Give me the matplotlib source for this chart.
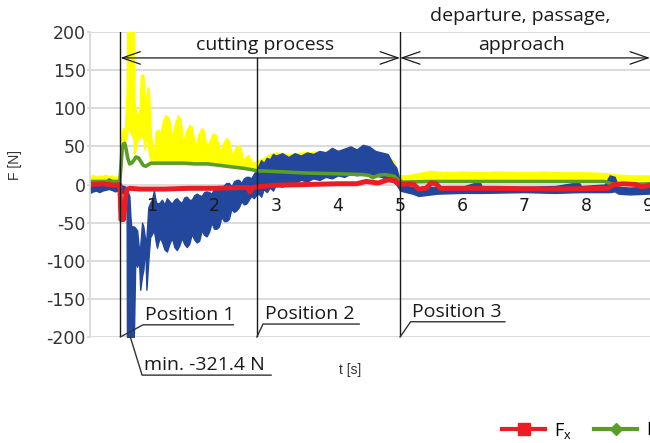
import matplotlib
matplotlib.use("Agg")
import matplotlib.pyplot as plt
from matplotlib.lines import Line2D

# values (t in s, F in N)
yellow_t = [0.00, 0.05, 0.10, 0.15, 0.20, 0.25, 0.30, 0.35, 0.40, 0.45,
            0.49, 0.50, 0.53, 0.56, 0.59, 0.60, 0.61, 0.70, 0.71, 0.73,
            0.75, 0.78, 0.80, 0.82, 0.86, 0.88, 0.90, 0.93, 0.95, 0.97,
            1.00, 1.03, 1.06, 1.10, 1.14, 1.18, 1.22, 1.27, 1.32, 1.37,
            1.42, 1.46, 1.50, 1.55, 1.60, 1.64, 1.70, 1.75, 1.80, 1.84,
            1.88, 1.93, 1.98, 2.03, 2.06, 2.10, 2.15, 2.20, 2.24, 2.29,
            2.34, 2.39, 2.43, 2.47, 2.51, 2.55, 2.59, 2.63, 2.68, 2.72,
            2.80, 2.90, 3.00, 3.20, 3.40, 3.60, 3.80, 4.00, 4.20, 4.40,
            4.60, 4.80, 4.90, 4.96, 5.02, 5.10, 5.30, 5.50, 5.70, 6.00,
            6.30, 6.60, 7.00, 7.30, 7.60, 8.00, 8.30, 8.50, 8.70, 9.00,
            9.10]
yellow_lo = [4, 5, 4, 5, 4, 5, 4, 5, 4, 5,
             5, 20, 55, 57, 60, 70, 75, 60, 40, 45,
             55, 60, 60, 65, 60, 45, 60, 55, 40, 33,
             32, 34, 30, 30, 30, 30, 30, 30, 30, 30,
             30, 30, 30, 30, 30, 30, 29, 29, 29, 29,
             28, 28, 28, 27, 27, 26, 26, 26, 25, 24,
             24, 23, 23, 22, 22, 22, 21, 20, 19, 19,
             20, 20, 20, 21, 22, 22, 22, 22, 22, 22,
             20, 18, 12, 6, 5, 6, 7, 8, 8, 8,
             8, 8, 8, 8, 8, 8, 8, 6, 6, 5,
             5]
yellow_hi = [11, 13, 10, 12, 11, 13, 10, 12, 10, 11,
             10, 60, 74, 72, 120, 230, 230, 230, 120, 100,
             96, 90, 100, 144, 144, 105, 110, 128, 125, 80,
             50, 40, 70, 72, 68, 85, 91, 88, 62, 80,
             91, 85, 56, 70, 78, 76, 50, 66, 74, 70,
             47, 58, 67, 65, 55, 43, 55, 61, 58, 38,
             48, 52, 48, 32, 36, 39, 33, 28, 30, 32,
             35, 40, 42, 40, 42, 43, 44, 44, 45, 45,
             42, 38, 30, 14, 12, 12, 15, 18, 16, 17,
             16, 17, 16, 17, 16, 16, 15, 13, 12, 12,
             11]

blue_t = [0.00, 0.05, 0.10, 0.15, 0.20, 0.25, 0.30, 0.35, 0.40, 0.45,
          0.49, 0.55, 0.59, 0.60, 0.635, 0.65, 0.665, 0.71, 0.73, 0.76,
          0.79, 0.81, 0.84, 0.86, 0.89, 0.91, 0.94, 0.97, 1.00, 1.03,
          1.06, 1.08, 1.12, 1.16, 1.20, 1.24, 1.28, 1.32, 1.36, 1.40,
          1.44, 1.48, 1.52, 1.56, 1.60, 1.64, 1.68, 1.72, 1.76, 1.80,
          1.84, 1.88, 1.92, 1.96, 2.00, 2.04, 2.08, 2.12, 2.16, 2.20,
          2.24, 2.28, 2.32, 2.36, 2.40, 2.44, 2.48, 2.52, 2.56, 2.60,
          2.64, 2.68, 2.72, 2.76, 2.80, 2.85, 2.90, 2.95, 3.00, 3.10,
          3.20, 3.30, 3.40, 3.50, 3.60, 3.70, 3.80, 3.90, 4.00, 4.10,
          4.20, 4.30, 4.40, 4.50, 4.60, 4.70, 4.80, 4.88, 4.94, 5.00,
          5.10, 5.20, 5.30, 5.40, 5.50, 5.60, 6.00, 6.28, 6.32, 7.00,
          7.50, 7.88, 7.92, 8.30, 8.38, 8.46, 8.52, 8.70, 9.00, 9.10]
blue_lo = [-11, -9, -8, -10, -8, -7, -6, -7, -9, -8,
           -10, -12, -30, -330, -330, -80, -300, -190, -100, -108,
           -100, -138, -120, -112, -80, -138, -100, -69, -65, -60,
           -75, -83, -70, -75, -85, -88, -78, -70, -82, -86,
           -80, -70, -78, -82, -78, -65, -72, -76, -74, -60,
           -66, -68, -62, -50, -58, -58, -55, -42, -48, -48,
           -45, -32, -36, -34, -30, -22, -26, -25, -20, -15,
           -18, -14, -12, -16, -6, -10, -4, -8, 0, -3,
           4, 2, 6, 4, 8, 6, 10, 8, 12, 10,
           14, 12, 14, 15, 12, 10, 6, 4, 0, -8,
           -10, -12, -15, -14, -13, -12, -11, -11, -11, -10,
           -11, -10, -10, -10, -10, -9, -12, -13, -12, -11]
blue_hi = [-2, 0, -1, 1, 0, 4, 8, 6, 1, 0,
           -1, -2, -4, -8, -15, -40, -55, -55, -57, -60,
           -86, -80, -50, -55, -73, -70, -30, -24, -20, -8,
           -22, -25, -24, -20, -26, -18, -22, -25, -20, -18,
           -22, -24, -17, -16, -20, -20, -14, -12, -14, -15,
           -10, -9, -10, -12, -6, -4, -2, -6, -1, 2,
           2, -3, 4, 6, 6, 2, 8, 10, 10, 8,
           14, 18, 25, 32, 28, 35, 33, 40, 38, 41,
           36, 41, 38, 42, 40, 44, 42, 48, 44, 47,
           50, 46, 52, 50, 44, 42, 40, 28, 22, 2,
           -2, -3, -4, -2, -3, -3, -3, 4, -3, -3,
           -2, 3, -2, 0, 12, 10, -3, -4, -3, -3]

green_t = [0.00, 0.48, 0.50, 0.52, 0.54, 0.56, 0.58, 0.61, 0.64, 0.67,
           0.71, 0.74, 0.78, 0.82, 0.86, 0.90, 0.94, 0.98, 1.10, 1.30,
           1.50, 1.70, 1.90, 2.10, 2.30, 2.50, 2.70, 3.00, 3.50, 4.00,
           4.40, 4.50, 4.56, 4.65, 4.75, 4.90, 4.97, 5.05, 5.50, 6.50,
           7.50, 8.30, 8.40, 8.50, 9.10]
green_F = [4, 4, 25, 48, 53, 54, 47, 34, 27, 28,
           32, 36, 35, 30, 25, 24, 26, 28, 28, 28,
           28, 27, 27, 25, 23, 21, 18, 17, 15, 14,
           13, 12, 9, 12, 13, 11, 6, 3, 4, 4,
           4, 4, 1, 0, 1]

red_t = [0.00, 0.20, 0.40, 0.48, 0.49, 0.50, 0.54, 0.56, 0.58, 0.60,
         0.65, 0.80, 1.20, 1.60, 2.00, 2.40, 2.55, 2.58, 2.62, 2.70,
         3.00, 3.50, 4.00, 4.30, 4.45, 4.55, 4.65, 4.80, 4.92, 5.00,
         5.15, 5.22, 5.30, 5.42, 5.50, 5.58, 5.65, 6.50, 7.50, 8.35,
         8.45, 8.60, 8.80, 8.90, 9.10]
red_F = [0, 1, -1, 0, -20, -46, -46, -30, -12, -6,
         -5, -6, -6, -5, -5, -4, -4, -10, -4, -3,
         -1, 0, 1, 1, 4, 3, 2, 6, 5, 0,
         1, 0, -6, -5, 2, 1, -5, -5, -6, -5,
         0, 1, 0, -3, 0]

x_ticks = [1, 2, 3, 4, 5, 6, 7, 8, 9]
y_ticks = [-200, -150, -100, -50, 0, 50, 100, 150, 200]

RED = "#ec1c24"
GREEN = "#5a9e23"
YELLOW = "#ffff00"
BLUE = "#22479c"
INK = "#1a1a1a"

plt.rcParams["font.family"] = ["Liberation Sans", "DejaVu Sans"]
plt.rcParams["axes.unicode_minus"] = False
note = dict(family="Open Sans", fontsize=14, color=INK)

fig = plt.figure(figsize=(6.5, 4.43), dpi=100)
ax = fig.add_axes([90 / 650, 1 - 337 / 443, 560 / 650, 305 / 443])
ax.set_xlim(0, 9.03)
ax.set_ylim(-200, 200)

for yv in y_ticks:
    ax.axhline(yv, color="#d9d9d9", lw=1.3, zorder=0.5)

for side in ["top", "right"]:
    ax.spines[side].set_visible(False)
ax.spines["left"].set_color("#d9d9d9")
ax.spines["left"].set_linewidth(1.3)
ax.spines["bottom"].set_position(("data", 0))
ax.spines["bottom"].set_color("none")

ax.set_yticks(y_ticks)
ax.set_xticks(x_ticks)
for lab in ax.get_yticklabels() + ax.get_xticklabels():
    lab.set_family("DejaVu Sans")
ax.tick_params(axis="y", length=2, width=1.3, color="#d9d9d9",
               labelsize=12.5, labelcolor="#333333", pad=1)
ax.tick_params(axis="x", length=0, pad=9, labelsize=12.5, labelcolor=INK)
ax.xaxis.set_zorder(10)

# signals
ax.fill_between(yellow_t, yellow_lo, yellow_hi, color=YELLOW, ec=YELLOW, lw=1, zorder=1)
ax.fill_between(blue_t, blue_lo, blue_hi, color=BLUE, ec=BLUE, lw=1, zorder=1.1)
ax.plot(green_t, green_F, color=GREEN, lw=2.6, zorder=1.2)
ax.plot(red_t, red_F, color=RED, lw=3.6, zorder=1.3)

# phase markers
ax.plot([0.49, 0.49], [-200, 200], color=INK, lw=1, zorder=6)
ax.plot([2.69, 2.69], [-200, 166], color=INK, lw=1, zorder=6)
ax.plot([5, 5], [-200, 200], color=INK, lw=1, zorder=6)

arr = dict(arrowstyle="<->,head_length=1.3,head_width=0.45", lw=0.9,
           color=INK, shrinkA=0, shrinkB=0)
ax.annotate("", xy=(0.49, 166), xytext=(5, 166), arrowprops=arr,
            annotation_clip=False, zorder=6)
ax.annotate("", xy=(5, 166), xytext=(9.03, 166), arrowprops=arr,
            annotation_clip=False, zorder=6)

ax.text(2.82, 183, "cutting process", ha="center", va="center", **note)
ax.text(6.94, 221, "departure, passage,", ha="center", va="center", **note)
ax.text(6.95, 183, "approach", ha="center", va="center", **note)

# position labels with leader lines
labels = [("Position 1", 0.855, 2.31, -184, 0.49, -200),
          ("Position 2", 2.79, 4.34, -183, 2.69, -200),
          ("Position 3", 5.17, 6.69, -180, 5.0, -200)]
for txt, x0, x1, yl, xa, ya in labels:
    ax.text(x0 + 0.03, yl + 13, txt, ha="left", va="center", **note)
    ax.plot([xa, x0, x1], [ya, yl, yl], color="#333333", lw=1,
            clip_on=False, zorder=6)

ax.text(0.87, -237, "min. -321.4 N", ha="left", va="center", clip_on=False, **note)
ax.plot([0.65, 0.84, 2.92], [-200, -250, -250], color="#333333", lw=1,
        clip_on=False, zorder=6)

fig.text(15 / 650, 1 - 165 / 443, "F [N]", rotation=90, ha="center",
         va="center", fontsize=10, color="#333333")
fig.text(350 / 650, 1 - 370 / 443, "t [s]", ha="center", va="center",
         fontsize=10, color="#333333")

handles = [Line2D([], [], color=RED, lw=3, marker="s", ms=8.5),
           Line2D([], [], color=GREEN, lw=3, marker="D", ms=6)]
fig.legend(handles, [r"F$_\mathregular{x}$", r"F$_\mathregular{y}$"],
           loc="center left", bbox_to_anchor=(502 / 650, 11 / 443), ncol=2,
           frameon=False, prop=dict(family="Open Sans", size=13),
           handlelength=2.4, handletextpad=0.5, columnspacing=1.2,
           borderaxespad=0, borderpad=0)

fig.savefig("out.png", dpi=100)
